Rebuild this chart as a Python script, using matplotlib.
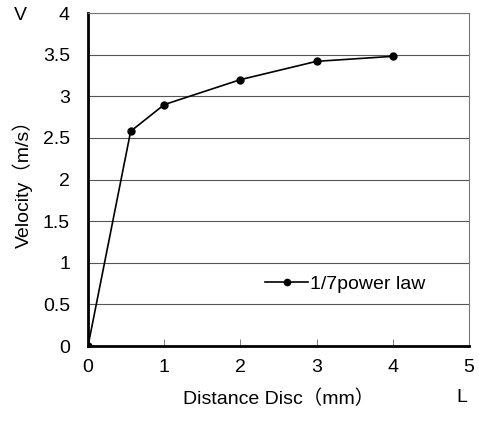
import matplotlib
matplotlib.use("Agg")
import matplotlib.pyplot as plt

distance = [0, 0.56, 1.0, 2.0, 3.0, 4.0]
velocity = [0, 2.58, 2.9, 3.2, 3.42, 3.48]
x_ticks = [0, 1, 2, 3, 4, 5]
y_ticks = [0, 0.5, 1, 1.5, 2, 2.5, 3, 3.5, 4]

plt.rcParams["font.family"] = ["Liberation Sans", "Noto Sans CJK JP", "DejaVu Sans"]
plt.rcParams["font.size"] = 14

fig = plt.figure(figsize=(4.79, 4.21), dpi=100)
ax = fig.add_axes([0.1837, 0.178, 0.7953, 0.791])

ax.plot(distance, velocity, color="black", linewidth=1.2, marker="o",
        markersize=5, label="1/7power law", zorder=3)

ax.set_xlim(0, 5)
ax.set_ylim(0, 4)
ax.set_xticks(x_ticks)
ax.set_yticks(y_ticks)
ax.set_yticklabels([f"{v:g}" for v in y_ticks])
ax.yaxis.grid(True, color="#555555", linewidth=0.8)
ax.set_axisbelow(True)

ax.tick_params(axis="x", direction="in", length=5, width=0.6, pad=9, color="#666666")
ax.tick_params(axis="y", length=0, pad=13)

for side in ("left", "bottom"):
    ax.spines[side].set_linewidth(2)
    ax.spines[side].set_color("black")
for side in ("top", "right"):
    ax.spines[side].set_linewidth(0.8)
    ax.spines[side].set_color("#777777")

ax.set_xlabel("Distance Disc（mm）", labelpad=10)
ax.set_ylabel("Velocity（m/s）", labelpad=7)

fig.text(20 / 479, 1 - 16 / 421, "V", ha="center", va="center", fontsize=14)
fig.text(462 / 479, 1 - 397 / 421, "L", ha="center", va="center", fontsize=14)

ax.legend(loc="center left", bbox_to_anchor=(0.42, 0.185), frameon=False,
          handlelength=2.2, handletextpad=0.1, markerscale=0.9, fontsize=14)

fig.savefig("out.png", dpi=100)
